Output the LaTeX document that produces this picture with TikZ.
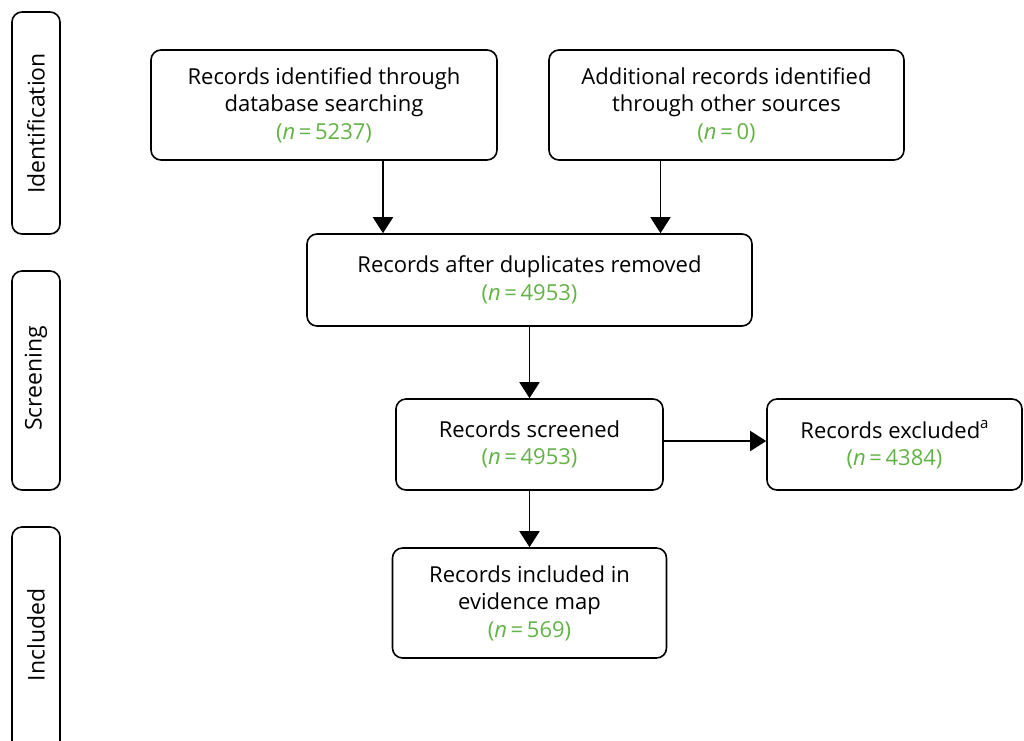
\documentclass[tikz,border=0pt]{standalone}
\usepackage{fontspec}
\setmainfont{Open Sans}
\usetikzlibrary{arrows.meta}
\definecolor{ngreen}{RGB}{98,179,70}
\tikzset{
  box/.style={draw=black, line width=1.6pt, rounded corners=10pt, align=center,
    inner sep=0pt, font=\fontsize{22}{27.5}\selectfont, text=black},
  side/.style={draw=black, line width=1.6pt, rounded corners=10pt, align=center,
    inner sep=0pt, minimum width=48pt},
  sidetext/.style={rotate=90, font=\fontsize{23}{27}\selectfont},
  arr/.style={line width=1.8pt, -{Triangle[length=16pt,width=20pt]}},
}
\newcommand{\nn}[1]{\textcolor{ngreen}{(\textit{n}\,=\,#1)}}
\newcommand{\supa}{\raisebox{0.45em}{\fontsize{15}{15}\selectfont a}}
\begin{document}
\begin{tikzpicture}[x=1pt,y=-1pt]
\useasboundingbox (0,0) rectangle (1024,740);
\begin{scope}
\clip (0,0) rectangle (1024,740);
\node[side, minimum height=222pt] (id) at (36,123) {};
\node[side, minimum height=219pt] (sc) at (36,380.5) {};
\node[side, minimum height=230pt] (in) at (36,642) {};
\end{scope}
\node[sidetext] (idt) at (36,123.5) {Identification};
\node[sidetext] (sct) at (36,378.5) {Screening};
\node[sidetext] (int) at (36,635) {Included};

\node[box, minimum width=346pt, minimum height=110pt] (a) at (324,105)
  {Records identified through\\database searching\\\nn{5237}};
\node[box, minimum width=355pt, minimum height=110pt] (b) at (726.5,105)
  {Additional records identified\\through other sources\\\nn{0}};
\node[box, minimum width=445pt, minimum height=92pt] (c) at (529.5,280)
  {Records after duplicates removed\\\nn{4953}};
\node[box, minimum width=267pt, minimum height=91pt] (d) at (529.5,444.5)
  {Records screened\\\nn{4953}};
\node[box, minimum width=255pt, minimum height=91pt] (e) at (894.5,444.5)
  {Records excluded\supa\\\nn{4384}};
\node[box, minimum width=274pt, minimum height=110pt] (f) at (529.5,603)
  {Records included in\\evidence map\\\nn{569}};

\draw[arr] ([xshift=59pt]a.south) -- ([xshift=59pt]a.south |- c.north);
\draw[arr] ([xshift=-66pt]b.south) -- ([xshift=-66pt]b.south |- c.north);
\draw[arr] (c.south) -- (c.south |- d.north);
\draw[arr] (d.south) -- (d.south |- f.north);
\draw[arr] ([yshift=3.5pt]d.east) -- ([yshift=3.5pt]d.east -| e.west);
\end{tikzpicture}
\end{document}
